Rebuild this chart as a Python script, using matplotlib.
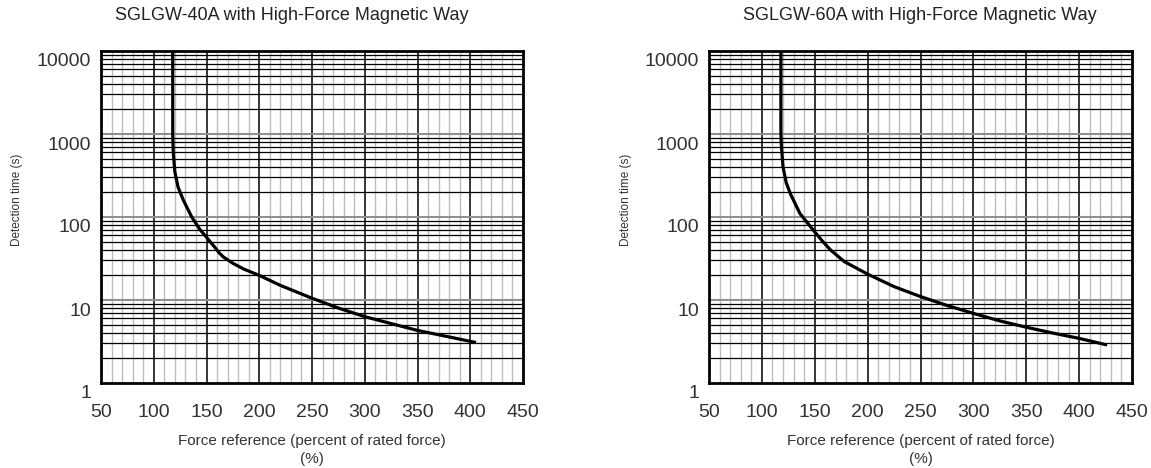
import numpy as np
import matplotlib
matplotlib.use("Agg")
import matplotlib.pyplot as plt
import matplotlib.transforms as mtransforms

plt.rcParams['font.family'] = ['Liberation Sans', 'DejaVu Sans']

# data (force %, detection time s)
force_40a = [118, 118, 118.5, 120, 123, 128, 136, 144, 150, 158, 162, 166,
             175, 185, 200, 220, 250, 275, 300, 325, 350, 375, 404]
time_40a = [10000, 1000, 600, 350, 230, 160, 100, 70, 57, 43, 37, 33,
            27.7, 23.7, 19.8, 15, 10.5, 8.0, 6.3, 5.2, 4.3, 3.7, 3.1]

force_60a = [118, 118, 118.5, 120, 123, 127, 136, 150, 158, 165, 178, 200,
             225, 250, 275, 300, 325, 350, 375, 400, 425]
time_60a = [10000, 1000, 700, 400, 260, 190, 110, 66, 50, 40, 29, 20.5,
            14.5, 11, 8.6, 6.9, 5.6, 4.7, 4.0, 3.45, 2.9]

titles = ['SGLGW-40A with High-Force Magnetic Way',
          'SGLGW-60A with High-Force Magnetic Way']
x_ticks = [50, 100, 150, 200, 250, 300, 350, 400, 450]
y_ticks = [1, 10, 100, 1000, 10000]

W, H = 1151, 468
fig = plt.figure(figsize=(W / 100, H / 100), dpi=100)

axes_px = [(101, 523), (709, 1132)]
title_cx = [292, 920]
ylabel_x = [17, 626]
top, bottom = 51, 383

series = [(force_40a, time_40a), (force_60a, time_60a)]

for i in range(2):
    l, r = axes_px[i]
    ax = fig.add_axes([l / W, 1 - bottom / H, (r - l) / W, (bottom - top) / H])
    ax.set_yscale('log')
    ax.set_xlim(50, 450)
    ax.set_ylim(1, 10000)

    # log-paper grid
    for xv in range(60, 450, 10):
        if xv % 50 == 0:
            ax.axvline(xv, color='black', lw=1.1, zorder=1)
        else:
            ax.axvline(xv, color='#bdbdbd', lw=1.0, zorder=0.5)
    for dec in [1, 10, 100, 1000]:
        for m in range(2, 10):
            ax.axhline(dec * m, color='black', lw=0.9, zorder=1)
        if dec > 1:
            ax.axhline(dec, color='#909090', lw=1.5, zorder=1)

    fx, ty = series[i]
    ax.plot(fx, ty, color='black', lw=2.3, zorder=3, solid_joinstyle='round')

    for s in ax.spines.values():
        s.set_linewidth(2.0)
        s.set_zorder(4)

    ax.set_xticks(x_ticks)
    ax.set_xticklabels([str(v) for v in x_ticks])
    ax.set_yticks(y_ticks)
    ax.set_yticklabels([str(v) for v in y_ticks])
    ax.yaxis.set_minor_locator(matplotlib.ticker.NullLocator())
    ax.tick_params(axis='both', length=0, labelsize=14, labelcolor='#333333')
    ax.tick_params(axis='y', pad=7)
    ax.tick_params(axis='x', pad=15)
    offset = mtransforms.ScaledTranslation(0, -9 / 100, fig.dpi_scale_trans)
    for lab in ax.get_yticklabels():
        lab.set_transform(lab.get_transform() + offset)

    ax.set_xlabel('Force reference (percent of rated force)\n(%)',
                  fontsize=11, color='#333333', linespacing=1.35)
    ax.xaxis.set_label_coords(0.5, -0.155)

    fig.text(title_cx[i] / W, 1 - 15 / H, titles[i], ha='center', va='center',
             fontsize=13, color='#222222')
    fig.text(ylabel_x[i] / W, 1 - 200 / H, 'Detection time (s)', rotation=90,
             ha='center', va='center', fontsize=8.5, color='#333333')

fig.savefig('out.png', dpi=100)
